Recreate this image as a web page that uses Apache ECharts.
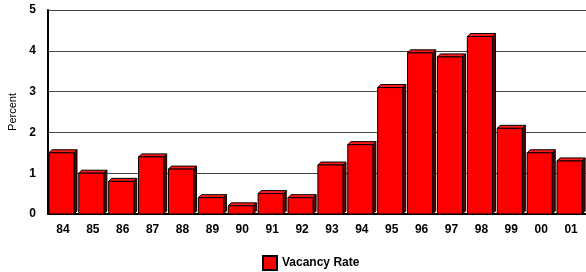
<!DOCTYPE html>
<html>
<head>
<meta charset="utf-8">
<script src="https://cdn.jsdelivr.net/npm/echarts@6/dist/echarts.min.js"></script>
<style>
  html, body { margin: 0; padding: 0; background: #fff; }
  #chart { width: 586px; height: 272px; }
</style>
</head>
<body>
<div id="chart"></div>
<script>
const years = ['84', '85', '86', '87', '88', '89', '90', '91', '92', '93', '94', '95', '96', '97', '98', '99', '00', '01'];
const vacancyRate = [1.5, 1.0, 0.8, 1.4, 1.1, 0.4, 0.2, 0.5, 0.4, 1.2, 1.7, 3.1, 3.95, 3.85, 4.35, 2.1, 1.5, 1.3];
const yTicks = [0, 1, 2, 3, 4, 5];

const chart = echarts.init(document.getElementById('chart'));
const depth = 3;

// 3D-looking bar: front face, top face, right side
function renderBar(params, api) {
  const top = api.coord([api.value(0), api.value(1)]);
  const base = api.coord([api.value(0), 0]);
  const w = api.size([1, 0])[0] * 0.84;
  const l = top[0] - w / 2 - 1.5;
  const r = l + w;
  return {
    type: 'group',
    children: [
      {
        type: 'polygon',
        shape: { points: [[r, top[1]], [r + depth, top[1] - depth], [r + depth, base[1] - depth], [r, base[1]]] },
        style: { fill: '#5a0000', stroke: '#000', lineWidth: 1 }
      },
      {
        type: 'polygon',
        shape: { points: [[l, top[1]], [l + depth, top[1] - depth], [r + depth, top[1] - depth], [r, top[1]]] },
        style: { fill: '#ff1a1a', stroke: '#000', lineWidth: 1 }
      },
      {
        type: 'rect',
        shape: { x: l, y: top[1], width: w, height: base[1] - top[1] },
        style: { fill: '#ff0000', stroke: '#000', lineWidth: 1 }
      }
    ]
  };
}

chart.setOption({
  animation: false,
  textStyle: { fontFamily: 'Liberation Sans, Arial, sans-serif' },
  grid: { left: 48, right: 0, top: 10, bottom: 58, outerBoundsMode: 'none' },
  legend: {
    top: 250,
    left: 257,
    icon: 'rect',
    itemWidth: 14,
    itemHeight: 14,
    itemGap: 6,
    textStyle: { fontSize: 12, fontWeight: 'bold', color: '#000' },
    data: ['Vacancy Rate']
  },
  xAxis: {
    type: 'category',
    data: years,
    axisLine: { lineStyle: { color: '#000', width: 2 } },
    axisTick: { show: false },
    axisLabel: { fontSize: 12, fontWeight: 'bold', color: '#000', margin: 10 }
  },
  yAxis: {
    type: 'value',
    min: yTicks[0],
    max: yTicks[yTicks.length - 1],
    interval: 1,
    name: 'Percent',
    nameLocation: 'middle',
    nameGap: 30,
    nameTextStyle: { fontSize: 11, color: '#000' },
    axisLine: { show: true, lineStyle: { color: '#000', width: 2 } },
    axisTick: { show: false },
    axisLabel: { fontSize: 12, fontWeight: 'bold', color: '#000', margin: 12 },
    splitLine: { lineStyle: { color: '#444', width: 1 } }
  },
  series: [
    {
      name: 'Vacancy Rate',
      type: 'custom',
      renderItem: renderBar,
      itemStyle: { color: '#ff0000', borderColor: '#000', borderWidth: 1 },
      encode: { x: 0, y: 1 },
      data: vacancyRate.map((v, i) => [i, v])
    }
  ]
});
</script>
</body>
</html>
